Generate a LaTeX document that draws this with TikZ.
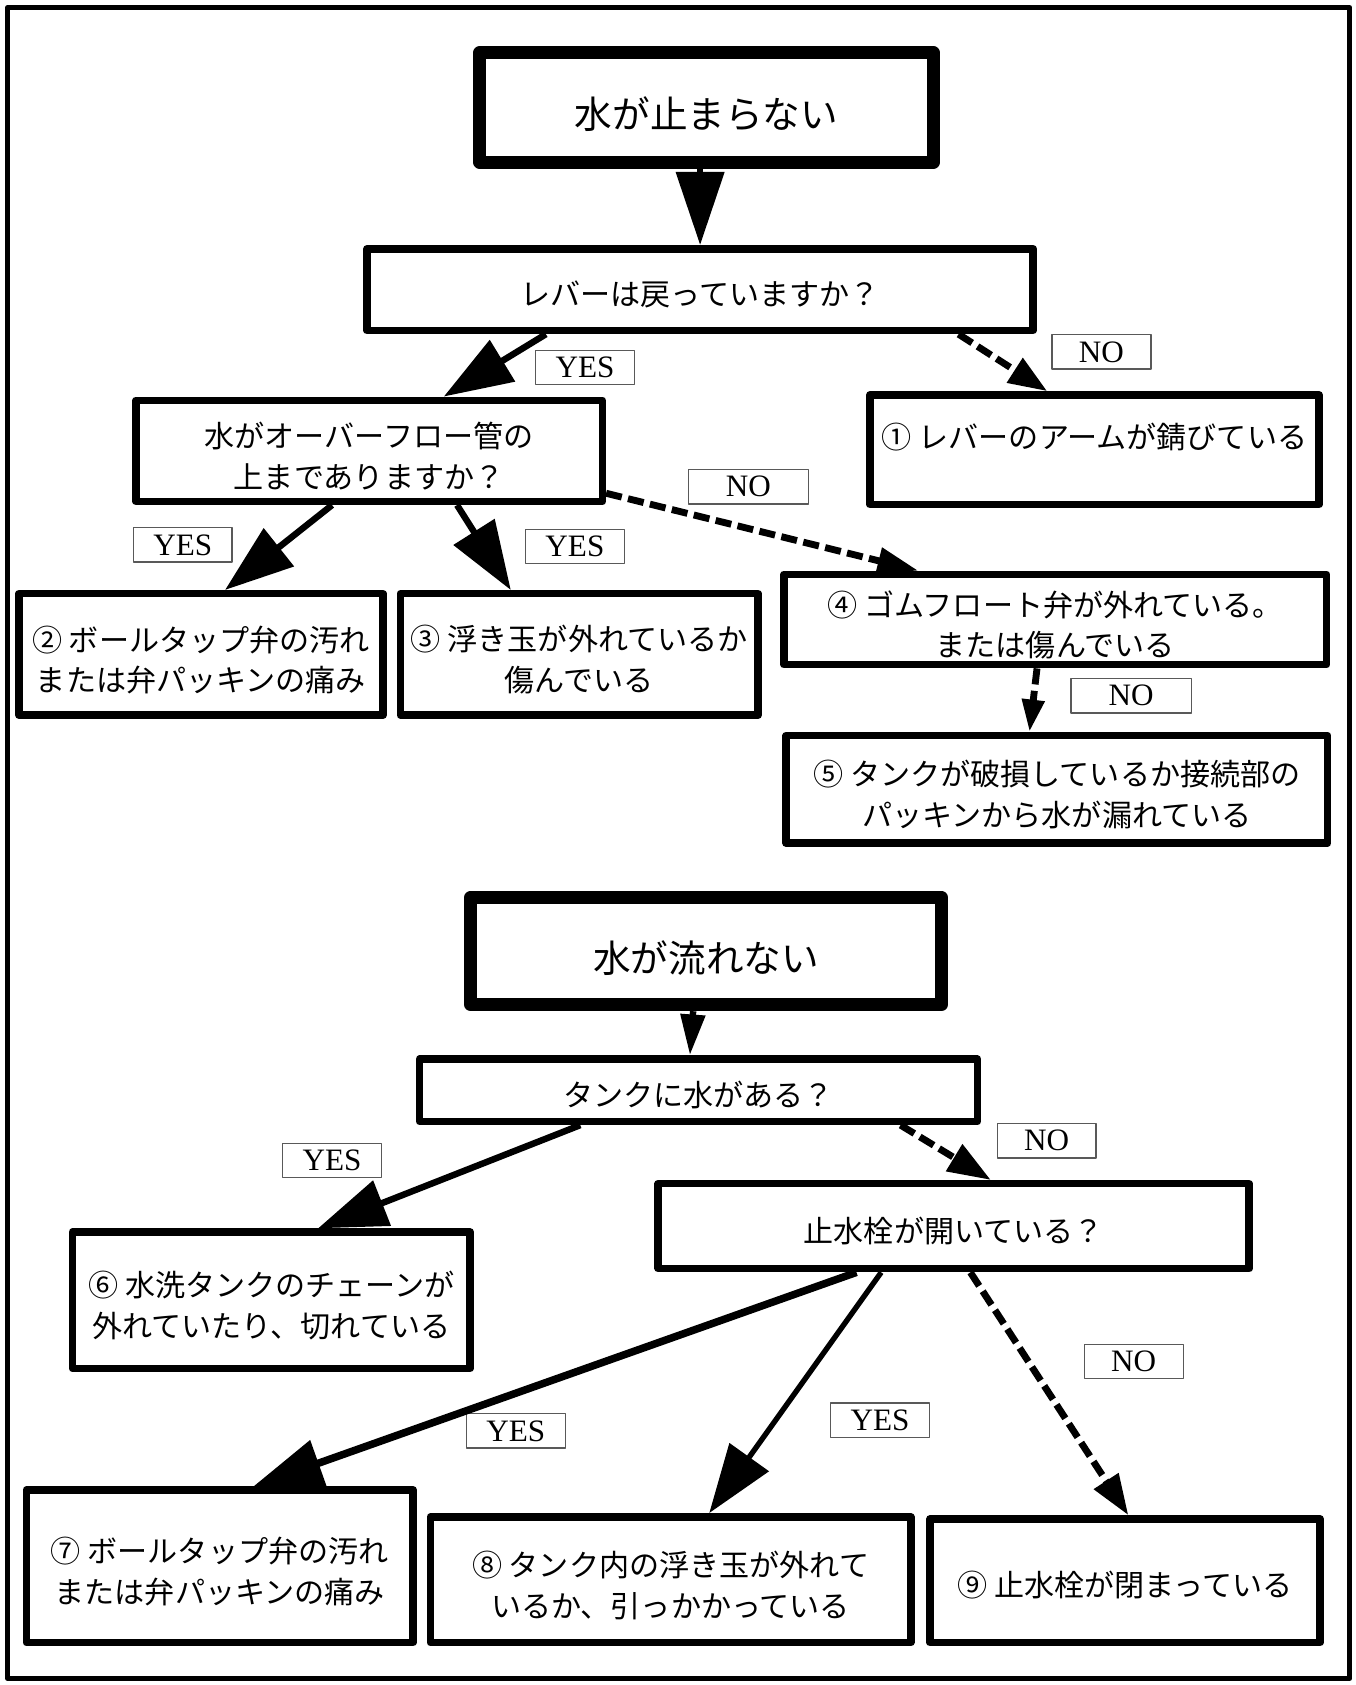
\documentclass[tikz,border=0pt]{standalone}
\usepackage{fontspec}
\setmainfont{Noto Sans CJK JP}
\newfontfamily\tagfont{Liberation Serif}
\usetikzlibrary{arrows.meta}

\begin{document}
\begin{tikzpicture}[
        x = 0.5pt, y = -0.5pt,
        line join = round,
        qbox/.style = {draw, line width=3.5pt, align=center, inner sep=2pt,
            font=\fontsize{14pt}{19pt}\selectfont},
        onerow/.style = {text height=16pt, text depth=1pt},
        tworow/.style = {text height=36pt},
        titlebox/.style = {draw, line width=6pt, inner sep=2pt, text height=21pt, text depth=1pt,
            font=\fontsize{17.5pt}{21pt}\selectfont},
        tagbox/.style = {draw=black!65, line width=0.6pt, fill=white, inner sep=0pt,
            minimum width=46pt, minimum height=16pt, font=\tagfont\fontsize{14.5pt}{16pt}\selectfont},
        yesarrow/.style = {line width=3pt, -{Triangle[length=32pt, width=22pt]}},
        noarrow/.style = {line width=3.2pt, dash pattern=on 7.5pt off 3pt, -{Triangle[length=19pt, width=12pt]}}
    ]

    \useasboundingbox (0,0) rectangle (1261,1568);
    \draw[line width=2.2pt] (7,7) rectangle (1256,1562);

    \node[titlebox, minimum width=211pt, minimum height=51pt] (stop) at (657.5,100) {水が止まらない};
    \node[qbox, onerow, minimum width=310pt, minimum height=38pt] (lever) at (651.5,269.5) {レバーは戻っていますか？};
    \node[qbox, tworow, minimum width=217pt, minimum height=47pt] (overflow) at (343.5,419.5) {水がオーバーフロー管の\\上までありますか？};
    \node[qbox, text height=12pt, text depth=13pt, minimum width=209pt, minimum height=51pt] (r1) at (1018.5,418.5) {① レバーのアームが錆びている};
    \node[qbox, tworow, minimum width=169.5pt, minimum height=56.5pt] (r2) at (187,609) {② ボールタップ弁の汚れ\\または弁パッキンの痛み};
    \node[qbox, tworow, minimum width=166.5pt, minimum height=56.5pt] (r3) at (539,609) {③ 浮き玉が外れているか\\傷んでいる};
    \node[qbox, tworow, minimum width=252.5pt, minimum height=42pt] (r4) at (982,576.5) {④ ゴムフロート弁が外れている。\\または傷んでいる};
    \node[qbox, tworow, minimum width=252pt, minimum height=50pt] (r5) at (983.5,734.5) {⑤ タンクが破損しているか接続部の\\パッキンから水が漏れている};

    \node[titlebox, minimum width=219pt, minimum height=50pt] (noflow) at (657,885) {水が流れない};
    \node[qbox, onerow, minimum width=259.5pt, minimum height=29pt] (tank) at (650,1014.5) {タンクに水がある？};
    \node[qbox, onerow, minimum width=275pt, minimum height=39.5pt] (valve) at (887.5,1141) {止水栓が開いている？};
    \node[qbox, tworow, minimum width=185pt, minimum height=63.5pt] (r6) at (252.5,1210) {⑥ 水洗タンクのチェーンが\\外れていたり、切れている};
    \node[qbox, tworow, minimum width=180pt, minimum height=71pt] (r7) at (204.5,1457.5) {⑦ ボールタップ弁の汚れ\\または弁パッキンの痛み};
    \node[qbox, tworow, minimum width=223.5pt, minimum height=58.5pt] (r8) at (624,1470) {⑧ タンク内の浮き玉が外れて\\いるか、引っかかっている};
    \node[qbox, onerow, minimum width=181.5pt, minimum height=57.5pt] (r9) at (1047,1471) {⑨ 止水栓が閉まっている};

    \node[tagbox] (yes1) at (544.5,342) {YES};
    \node[tagbox] (no1) at (1025,327.5) {NO};
    \node[tagbox] (yes2) at (170,507) {YES};
    \node[tagbox] (yes3) at (535,508.5) {YES};
    \node[tagbox, minimum width=56pt] (no2) at (696.5,453) {NO};
    \node[tagbox, minimum width=56pt] (no3) at (1052.5,647.5) {NO};
    \node[tagbox] (yes4) at (309,1080) {YES};
    \node[tagbox] (no4) at (974,1061.5) {NO};
    \node[tagbox] (no5) at (1055,1267) {NO};
    \node[tagbox] (yes5) at (480,1331.5) {YES};
    \node[tagbox] (yes6) at (819,1321.5) {YES};

    \draw[yesarrow, -{Triangle[length=34pt, width=22pt]}] ([xshift=-3pt]stop.south) -- (lever.north);
    \draw[yesarrow] ([xshift=-71.75pt]lever.south) -- ([xshift=34.75pt]overflow.north);
    \draw[noarrow, -{Triangle[length=18pt, width=13pt]}] ([xshift=120.25pt]lever.south) -- ([xshift=-22pt]r1.north);
    \draw[yesarrow] ([xshift=-17.25pt]overflow.south) -- ([xshift=11.2pt]r2.north);
    \draw[yesarrow] ([xshift=40.9pt]overflow.south) -- ([xshift=-31.85pt]r3.north);
    \draw[noarrow] ([yshift=5.5pt]overflow.south east) -- ([xshift=-63.75pt]r4.north);
    \draw[noarrow, -{Triangle[length=15pt, width=10pt]}] ([xshift=-8.5pt]r4.south) -- ([xshift=-12.75pt]r5.north);

    \draw[yesarrow, -{Triangle[length=19pt, width=11pt]}] ([xshift=-6pt]noflow.south) -- ([xshift=-4pt]tank.north);
    \draw[noarrow, -{Triangle[length=20pt, width=14pt]}] ([xshift=94pt]tank.south) -- ([xshift=17.25pt]valve.north);
    \draw[yesarrow] ([xshift=-55pt]tank.south) -- ([xshift=21.75pt]r6.north);
    \draw[yesarrow, line width=3.5pt] ([xshift=-45.25pt]valve.south) -- ([xshift=15.75pt]r7.north);
    \draw[yesarrow, line width=2.5pt] ([xshift=-33.75pt]valve.south) -- ([xshift=18pt]r8.north);
    \draw[noarrow, -{Triangle[length=19pt, width=13pt]}] ([xshift=7.75pt]valve.south) -- ([xshift=1.5pt]r9.north);
\end{tikzpicture}
\end{document}
